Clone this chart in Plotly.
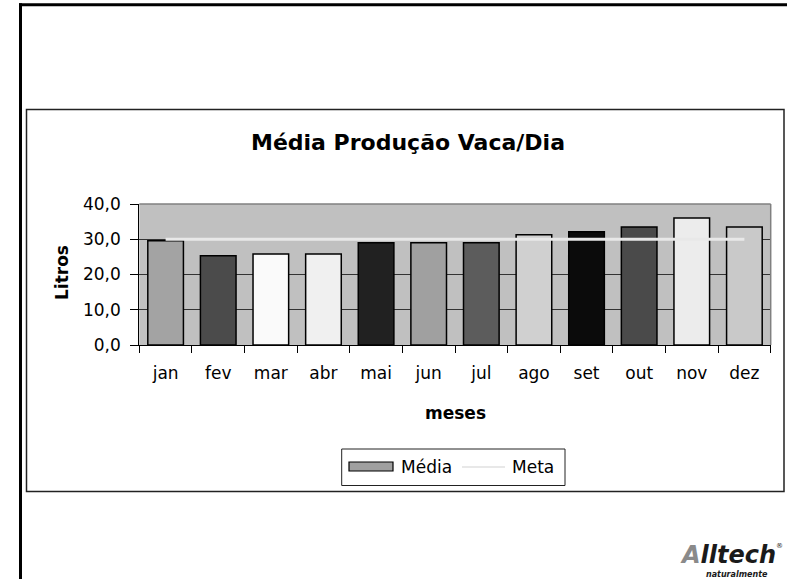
import plotly.graph_objects as go

# data
meses = ["jan", "fev", "mar", "abr", "mai", "jun", "jul", "ago", "set", "out", "nov", "dez"]
media = [29.6, 25.3, 25.8, 25.8, 29.0, 29.0, 29.0, 31.3, 32.1, 33.5, 36.0, 33.5]
meta = [30.0] * 12
bar_colors = ["#a3a3a3", "#4b4b4b", "#fafafa", "#f0f0f0", "#212121", "#a0a0a0",
              "#5c5c5c", "#d0d0d0", "#0b0b0b", "#4a4a4a", "#ececec", "#c9c9c9"]

W, H = 787, 579
FONT = "DejaVu Sans"


def px(x):
    return x / W


def py(y):
    return 1 - y / H


fig = go.Figure()

fig.add_trace(go.Bar(
    x=meses,
    y=media,
    name="Média",
    marker=dict(color=bar_colors, line=dict(color="black", width=1.5)),
))

fig.add_trace(go.Scatter(
    x=meses,
    y=meta,
    name="Meta",
    mode="lines",
    line=dict(color="#e8e8e8", width=3),
))

shapes = [
    # slide border (top and left)
    dict(type="line", xref="paper", yref="paper", x0=px(19), x1=px(787), y0=py(4.7), y1=py(4.7),
         line=dict(color="black", width=3)),
    dict(type="line", xref="paper", yref="paper", x0=px(20.5), x1=px(20.5), y0=py(3.3), y1=py(579),
         line=dict(color="black", width=3)),
    # chart box
    dict(type="rect", xref="paper", yref="paper", x0=px(26.5), x1=px(784), y0=py(109.5), y1=py(491.5),
         line=dict(color="#222", width=1.5)),
    # plot area top/right border
    dict(type="line", xref="paper", yref="paper", x0=px(139.3), x1=px(770.7), y0=py(204), y1=py(204),
         line=dict(color="#808080", width=1.5), layer="above"),
    dict(type="line", xref="paper", yref="paper", x0=px(770.7), x1=px(770.7), y0=py(204), y1=py(345),
         line=dict(color="#808080", width=1.5), layer="above"),
    # legend box and swatches
    dict(type="rect", xref="paper", yref="paper", x0=px(341.7), x1=px(565), y0=py(449), y1=py(485.5),
         line=dict(color="#222", width=1), fillcolor="white"),
    dict(type="rect", xref="paper", yref="paper", x0=px(349), x1=px(393), y0=py(462), y1=py(471),
         line=dict(color="black", width=1.2), fillcolor="#a0a0a0"),
    dict(type="line", xref="paper", yref="paper", x0=px(462), x1=px(505), y0=py(467), y1=py(467),
         line=dict(color="#e8e8e8", width=2)),
]

annotations = [
    dict(text="<b>Média Produção Vaca/Dia</b>", x=px(408), y=py(142), font=dict(size=22)),
    dict(text="<b>Litros</b>", x=px(62), y=py(273), textangle=-90, font=dict(size=17)),
    dict(text="<b>meses</b>", x=px(455), y=py(413), font=dict(size=17)),
    dict(text="Média", x=px(399), y=py(467), xanchor="left", font=dict(size=17)),
    dict(text="Meta", x=px(510), y=py(467), xanchor="left", font=dict(size=17)),
    # logo
    dict(text="<b><i><span style='color:#8a8a8a'>A</span>lltech</i></b>", x=px(778), y=py(555),
         xanchor="right", font=dict(size=24, color="#1a1a1a")),
    dict(text="®", x=px(785), y=py(546), xanchor="right", font=dict(size=7, color="#1a1a1a")),
    dict(text="<b><i>naturalmente</i></b>", x=px(770), y=py(574), xanchor="right",
         font=dict(size=8, color="#1a1a1a")),
]
for a in annotations:
    a.setdefault("xref", "paper")
    a.setdefault("yref", "paper")
    a.setdefault("xanchor", "center")
    a.setdefault("yanchor", "middle")
    a.setdefault("showarrow", False)
    a["font"].setdefault("family", FONT)
    a["font"].setdefault("color", "black")

fig.update_layout(
    width=W,
    height=H,
    autosize=False,
    margin=dict(l=0, r=0, t=0, b=0, pad=0, autoexpand=False),
    paper_bgcolor="white",
    plot_bgcolor="#c0c0c0",
    showlegend=False,
    bargap=0.323,
    separators=",.",
    font=dict(family=FONT, size=17, color="black"),
    shapes=shapes,
    annotations=annotations,
    xaxis=dict(
        domain=[px(139.3), px(770.7)],
        automargin=False,
        showline=True, linecolor="black", linewidth=1.2,
        ticks="outside", tickson="boundaries", ticklen=7, tickcolor="black", tickwidth=1.2,
        ticklabelstandoff=12,
        showgrid=False,
        tickfont=dict(size=17),
    ),
    yaxis=dict(
        domain=[py(345), py(204)],
        automargin=False,
        range=[0, 40],
        dtick=10,
        tickformat=".1f",
        showline=True, linecolor="black", linewidth=1.2,
        ticks="outside", ticklen=8, tickcolor="black", tickwidth=1.2,
        ticklabelstandoff=6,
        showgrid=True, gridcolor="#333333", gridwidth=1,
        zeroline=False,
        tickfont=dict(size=17),
    ),
)

# pin the figure to the window's top-left corner, with no page margin or scrolling
pin = (
    "document.body.style.margin='0';"
    "document.documentElement.style.overflow='hidden';"
    "var d=document.getElementById('{plot_id}');"
    "d.style.position='fixed';d.style.left='0';d.style.top='0';"
)
fig.write_html("out.html", config={"displayModeBar": False}, post_script=pin)
